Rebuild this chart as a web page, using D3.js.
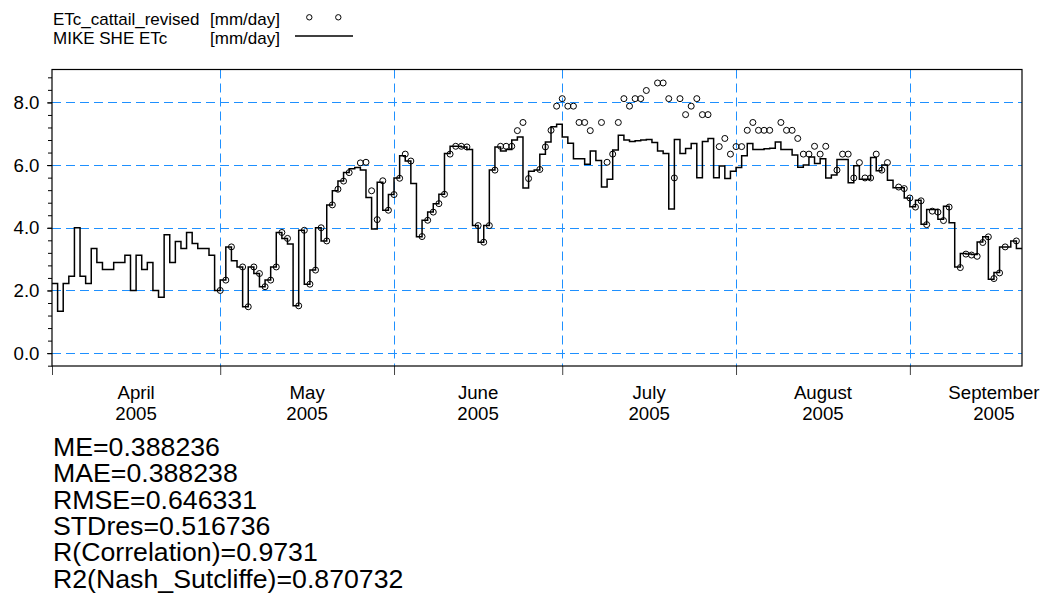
<!DOCTYPE html>
<html>
<head>
<meta charset="utf-8">
<script src="https://cdn.jsdelivr.net/npm/d3@7"></script>
<style>
  body { margin: 0; background: #fff; }
  svg { display: block; font-family: Arial, "Liberation Sans", sans-serif; }
</style>
</head>
<body>
<svg id="chart" width="1043" height="614"></svg>
<script>
// Daily series from 2005-04-01 (index 0); each value holds for the day ending at its date.
const seriesStart = new Date(2005, 3, 1);
const seriesEnd = new Date(2005, 8, 21);

// MIKE SHE simulated ETc [mm/day]
const mikeSheEtc = [
  2.22, 2.22, 1.34, 2.22, 2.45, 4.00, 2.45, 2.22, 3.34, 2.89,
  2.67, 2.67, 2.89, 2.89, 3.12, 2.00, 3.12, 2.67, 2.89, 2.00,
  1.78, 3.78, 2.89, 3.56, 3.34, 3.85, 3.50, 3.34, 3.34, 3.12,
  2.00, 2.33, 3.39, 2.95, 2.75, 1.48, 2.75, 2.54, 2.12, 2.33,
  2.75, 3.85, 3.66, 3.48, 1.51, 3.92, 2.20, 2.65, 4.00, 3.58,
  4.73, 5.18, 5.49, 5.76, 5.88, 5.92, 5.84, 4.97, 3.96, 5.45,
  4.56, 5.06, 5.59, 6.30, 6.13, 5.41, 3.71, 4.24, 4.50, 4.77,
  5.07, 6.37, 6.60, 6.60, 6.58, 6.50, 4.07, 3.54, 4.07, 5.84,
  6.58, 6.45, 6.50, 6.80, 6.90, 5.27, 5.80, 5.84, 6.35, 6.74,
  7.22, 7.30, 6.90, 6.70, 6.20, 6.20, 6.03, 6.45, 6.15, 5.30,
  5.55, 6.48, 6.95, 6.80, 6.75, 6.78, 6.80, 6.82, 6.72, 6.45,
  6.37, 4.60, 6.82, 6.37, 6.53, 6.69, 5.60, 6.75, 6.85, 5.60,
  5.97, 5.57, 5.80, 5.92, 6.30, 6.69, 6.50, 6.50, 6.52, 6.54,
  6.74, 6.50, 6.50, 6.32, 5.93, 6.00, 6.26, 6.05, 6.20, 5.59,
  5.68, 6.18, 6.18, 5.44, 5.98, 5.55, 5.55, 6.24, 5.82, 6.00,
  5.52, 5.28, 5.28, 4.95, 4.67, 4.88, 4.11, 4.58, 4.58, 4.27,
  4.69, 4.16, 2.75, 3.18, 3.16, 3.15, 3.55, 3.71, 2.36, 2.57,
  3.39, 3.39, 3.58, 3.34
];

// ETc_cattail_revised observations [mm/day]; null = no value that day
const cattailEtc = [
  null, null, null, null, null, null, null, null, null, null,
  null, null, null, null, null, null, null, null, null, null,
  null, null, null, null, null, null, null, null, null, null,
  2.00, 2.33, 3.39, null, 2.75, 1.48, 2.75, 2.54, 2.12, 2.33,
  2.75, 3.85, 3.66, null, 1.51, 3.92, 2.20, 2.65, 4.00, 3.58,
  4.73, 5.23, 5.49, 5.76, null, 6.07, 6.09, 5.18, 4.26, 5.50,
  4.56, 5.06, 5.58, 6.35, 6.13, null, 3.72, 4.24, 4.50, 4.77,
  5.07, 6.35, 6.60, 6.60, 6.58, null, 4.07, 3.54, 4.07, 5.84,
  6.60, 6.60, 6.60, 7.10, 7.36, 5.57, null, 5.86, 6.58, 7.11,
  7.88, 8.12, 7.88, 7.88, 7.36, 7.36, 7.10, null, 7.36, 6.09,
  6.35, 7.36, 8.12, 7.88, 8.12, 8.12, 8.38, null, 8.62, 8.62,
  8.12, 5.59, 8.12, 7.61, 7.88, 8.12, 7.61, 7.61, null, 6.59,
  6.85, 6.35, 6.59, 6.59, 7.11, 7.36, 7.11, 7.11, 7.11, null,
  7.36, 7.11, 7.11, 6.85, 6.35, 6.35, 6.60, 6.35, 6.60, null,
  5.84, 6.35, 6.35, 5.59, 6.08, 5.59, 5.59, 6.35, 5.84, 6.08,
  null, 5.30, 5.25, 4.95, 4.66, 4.86, 4.10, 4.53, 4.50, 4.23,
  4.66, null, 2.73, 3.16, 3.13, 3.09, 3.53, 3.71, 2.38, 2.56,
  3.39, null, 3.58, null
];

// Axis settings
const yGridValues = [0, 2, 4, 6, 8];
const yMinorStep = 0.4;
const yDomain = [-0.41, 9.05];

// Legend rows and goodness-of-fit summary
const legendNames = ["ETc_cattail_revised", "MIKE SHE ETc"];
const legendUnits = ["[mm/day]", "[mm/day]"];
const statsLines = [
  "ME=0.388236",
  "MAE=0.388238",
  "RMSE=0.646331",
  "STDres=0.516736",
  "R(Correlation)=0.9731",
  "R2(Nash_Sutcliffe)=0.870732"
];

const svg = d3.select("#chart");
const plot = { left: 52, right: 1022, top: 69.5, bottom: 366 };
const gridColor = "#1e90ff";
const axisFont = 18.67;

const x = d3.scaleTime().domain([seriesStart, seriesEnd]).range([plot.left, plot.right]);
const y = d3.scaleLinear().domain(yDomain).range([plot.bottom, plot.top]);

const dayDate = i => d3.timeDay.offset(seriesStart, i);
const simData = mikeSheEtc.map((v, i) => ({ date: dayDate(i), value: v }));
const obsData = cattailEtc.map((v, i) => ({ date: dayDate(i), value: v })).filter(d => d.value !== null);

svg.append("defs").append("clipPath").attr("id", "plot-clip")
  .append("rect")
  .attr("x", plot.left).attr("y", plot.top)
  .attr("width", plot.right - plot.left).attr("height", plot.bottom - plot.top);

// Dashed grid
const monthStarts = d3.timeMonth.range(seriesStart, d3.timeMonth.offset(seriesEnd, 1));
const grid = svg.append("g").attr("stroke", gridColor).attr("stroke-width", 1)
  .attr("stroke-dasharray", "9,5").attr("fill", "none");
grid.selectAll("line.h").data(yGridValues).join("line").attr("class", "h")
  .attr("x1", plot.left).attr("x2", plot.right)
  .attr("y1", d => Math.round(y(d)) + 0.5).attr("y2", d => Math.round(y(d)) + 0.5);
grid.selectAll("line.v").data(monthStarts.filter(d => d > seriesStart && d < seriesEnd)).join("line").attr("class", "v")
  .attr("x1", d => Math.round(x(d)) + 0.5).attr("x2", d => Math.round(x(d)) + 0.5)
  .attr("y1", plot.top).attr("y2", plot.bottom);

// Bottom axis ticks at month boundaries
const xAxis = svg.append("g").attr("transform", `translate(0,${plot.bottom})`)
  .call(d3.axisBottom(x).tickValues(monthStarts.filter(d => d <= seriesEnd)).tickSize(9).tickFormat(""));
xAxis.select(".domain").remove();
xAxis.selectAll(".tick line").attr("stroke", "#444");

// Month / year labels centred on each month
const monthLabels = svg.append("g").attr("font-size", axisFont).attr("fill", "#000").attr("text-anchor", "middle");
monthStarts.forEach(m => {
  const mid = new Date((m.getTime() + d3.timeMonth.offset(m, 1).getTime()) / 2);
  const t = monthLabels.append("text").attr("x", x(mid));
  t.append("tspan").attr("x", x(mid)).attr("y", 399).text(d3.timeFormat("%B")(m));
  t.append("tspan").attr("x", x(mid)).attr("y", 419.5).text(d3.timeFormat("%Y")(m));
});

// Left axis: minor ticks every 0.4, labels on the even values
const minorTicks = d3.range(-0.4, yDomain[1], yMinorStep);
const yMinor = svg.append("g").attr("transform", `translate(${plot.left},0)`)
  .call(d3.axisLeft(y).tickValues(minorTicks).tickSize(4).tickFormat(""));
yMinor.select(".domain").remove();
const yMajor = svg.append("g").attr("transform", `translate(${plot.left},0)`)
  .call(d3.axisLeft(y).tickValues(yGridValues).tickSize(5).tickPadding(7.5).tickFormat(d3.format(".1f")));
yMajor.select(".domain").remove();
yMajor.selectAll("text").attr("font-size", axisFont).attr("font-family", "Arial, 'Liberation Sans', sans-serif").attr("fill", "#000");

// Plot frame
svg.append("rect")
  .attr("x", plot.left).attr("y", plot.top)
  .attr("width", plot.right - plot.left).attr("height", plot.bottom - plot.top)
  .attr("fill", "none").attr("stroke", "#000").attr("stroke-width", 1.2);

// Simulated ETc as a step line
const body = svg.append("g").attr("clip-path", "url(#plot-clip)");
body.append("path")
  .datum(simData)
  .attr("fill", "none").attr("stroke", "#000").attr("stroke-width", 1.5)
  .attr("d", d3.line().x(d => x(d.date)).y(d => y(d.value)).curve(d3.curveStepBefore));

// Observed ETc as open circles
body.selectAll("circle.obs").data(obsData).join("circle").attr("class", "obs")
  .attr("cx", d => x(d.date)).attr("cy", d => y(d.value)).attr("r", 3)
  .attr("fill", "none").attr("stroke", "#000").attr("stroke-width", 1);

// Legend
const legend = svg.append("g").attr("font-size", 17).attr("fill", "#000");
legendNames.forEach((name, i) => {
  legend.append("text").attr("x", 53).attr("y", 24.5 + i * 19).text(name);
  legend.append("text").attr("x", 210).attr("y", 24.5 + i * 19).text(legendUnits[i]);
});
legend.selectAll("circle").data([309.3, 338.3]).join("circle")
  .attr("cx", d => d).attr("cy", 17.3).attr("r", 2.7)
  .attr("fill", "none").attr("stroke", "#000").attr("stroke-width", 1);
legend.append("line").attr("x1", 295).attr("x2", 353).attr("y1", 36).attr("y2", 36)
  .attr("stroke", "#000").attr("stroke-width", 1.3);

// Fit statistics
svg.append("g").attr("font-size", 26.7).attr("fill", "#000")
  .selectAll("text").data(statsLines).join("text")
  .attr("x", 53).attr("y", (d, i) => 456 + i * 26.3).text(d => d);
</script>
</body>
</html>
